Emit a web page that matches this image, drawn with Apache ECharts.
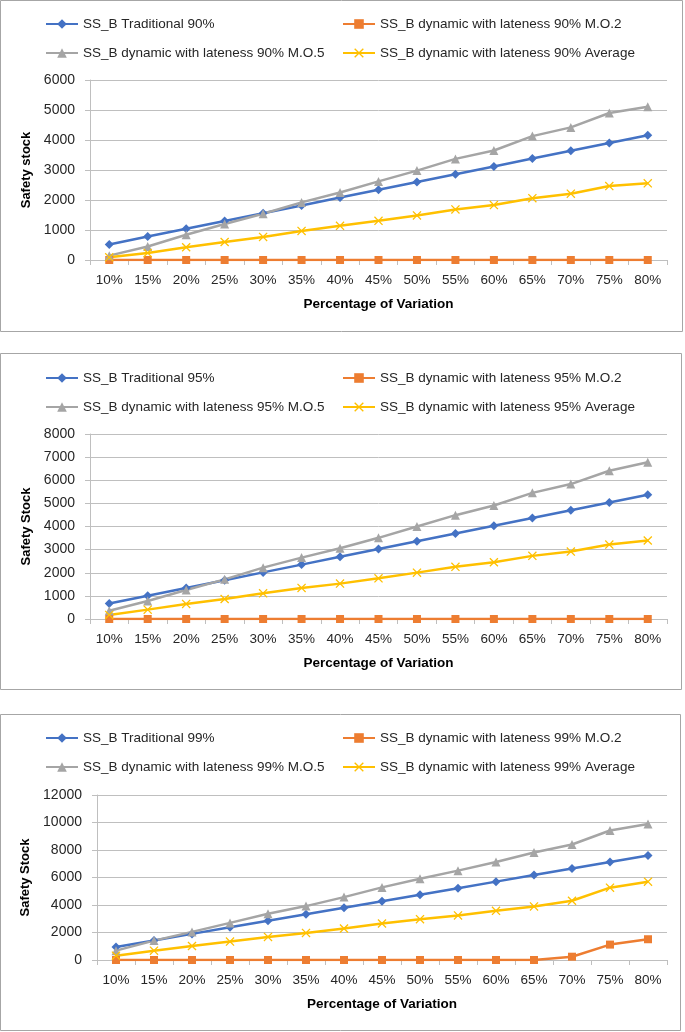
<!DOCTYPE html>
<html><head><meta charset="utf-8">
<script src="https://cdn.jsdelivr.net/npm/echarts@6/dist/echarts.min.js"></script>
<style>html,body{margin:0;padding:0;background:#fff}#c{width:685px;height:1032px}</style>
</head><body><div id="c"></div>
<script>
const categories = ['10%','15%','20%','25%','30%','35%','40%','45%','50%','55%','60%','65%','70%','75%','80%'];

const trad90 = [520,780,1040,1300,1560,1820,2080,2340,2600,2860,3120,3380,3640,3900,4160];
const mo2_90 = [0,0,0,0,0,0,0,0,0,0,0,0,0,0,0];
const mo5_90 = [145,450,840,1200,1540,1920,2250,2620,2980,3370,3650,4130,4420,4900,5110];
const avg_90 = [90,235,425,600,770,970,1140,1305,1485,1685,1830,2060,2210,2465,2555];

const trad95 = [672,1008,1344,1680,2016,2352,2688,3024,3360,3696,4032,4368,4704,5040,5376];
const mo2_95 = [0,0,0,0,0,0,0,0,0,0,0,0,0,0,0];
const mo5_95 = [360,780,1255,1715,2220,2655,3060,3510,4000,4490,4910,5455,5835,6410,6775];
const avg_95 = [175,405,650,865,1110,1345,1530,1760,2005,2255,2455,2730,2915,3220,3395];

const trad99 = [950,1425,1900,2375,2850,3325,3800,4275,4750,5225,5700,6175,6650,7125,7600];
const mo2_99 = [0,0,0,0,0,0,0,0,0,0,0,0,240,1120,1510];
const mo5_99 = [680,1410,2045,2700,3360,3920,4575,5280,5915,6500,7130,7815,8400,9420,9885];
const avg_99 = [315,680,1020,1340,1680,1970,2290,2655,2970,3240,3580,3895,4310,5260,5695];

const levels = ['90%','95%','99%'];
const yMaxes = [6000, 8000, 12000];
const yIntervals = [1000, 1000, 2000];
const yTitles = ['Safety stock','Safety Stock','Safety Stock'];
const xTitle = 'Percentage of Variation';
const panelData = [
  [trad90, mo2_90, mo5_90, avg_90],
  [trad95, mo2_95, mo5_95, avg_95],
  [trad99, mo2_99, mo5_99, avg_99]
];

const FONT = 'Liberation Sans, Arial, sans-serif';
const colors = ['#4472C4','#ED7D31','#A5A5A5','#FFC000'];
const xPath = 'path://M0,1 L1,0 L5,4 L9,0 L10,1 L6,5 L10,9 L9,10 L5,6 L1,10 L0,9 L4,5 Z';
const symbols = ['diamond','rect','triangle',xPath];
const symbolSizes = [9,8,9,9];

const grids = [
  {left:90, top:80, width:577, height:180},
  {left:90, top:434, width:577, height:185},
  {left:97, top:795, width:570, height:165}
];
const frames = [
  {x:0.5, y:0.5, width:682, height:331},
  {x:0.5, y:353.5, width:681, height:336},
  {x:0.5, y:714.5, width:680, height:316}
];
const legendTops = [12, 366, 726];

function names(l){
  return ['SS_B Traditional '+l, 'SS_B dynamic with lateness '+l+' M.O.2',
          'SS_B dynamic with lateness '+l+' M.O.5', 'SS_B dynamic with lateness '+l+' Average'];
}

const option = {
  animation:false,
  backgroundColor:'#fff',
  grid: grids.map(g=>Object.assign({containLabel:false}, g)),
  graphic: frames.map(f=>({type:'rect', shape:f, style:{fill:'none', stroke:'#A6A6A6', lineWidth:1}, silent:true})),
  legend: [],
  xAxis: [], yAxis: [], series: []
};

levels.forEach((lv,i)=>{
  const nm = names(lv);
  const legBase = {
    orient:'vertical', top:legendTops[i], itemWidth:32, itemHeight:12, itemGap:15,
    textStyle:{fontFamily:FONT, fontSize:13.5, color:'#262626'}, selectedMode:false
  };
  option.legend.push(Object.assign({}, legBase, {left:40, data:[nm[0], nm[2]]}));
  option.legend.push(Object.assign({}, legBase, {left:337, data:[nm[1], nm[3]]}));
  option.xAxis.push({
    type:'category', gridIndex:i, data:categories, boundaryGap:true,
    axisLine:{lineStyle:{color:'#BFBFBF', width:1}},
    axisTick:{show:true, interval:0, length:5, lineStyle:{color:'#BFBFBF'}},
    axisLabel:{interval:0, margin:13, fontFamily:FONT, fontSize:13.5, color:'#262626'},
    name:xTitle, nameLocation:'middle', nameGap:37,
    nameTextStyle:{fontFamily:FONT, fontSize:13.5, fontWeight:'bold', color:'#000'}
  });
  option.yAxis.push({
    type:'value', gridIndex:i, min:0, max:yMaxes[i], interval:yIntervals[i],
    axisLine:{show:true, lineStyle:{color:'#BFBFBF', width:1}},
    axisTick:{show:true, length:5, lineStyle:{color:'#BFBFBF'}},
    splitLine:{lineStyle:{color:'#BFBFBF', width:1}},
    axisLabel:{margin:15, fontFamily:FONT, fontSize:14, color:'#262626', formatter: v => String(v)},
    name:yTitles[i], nameLocation:'middle', nameGap: (i===2?45:38),
    nameTextStyle:{fontFamily:FONT, fontSize:13, fontWeight:'bold', color:'#000'}
  });
  panelData[i].forEach((d,k)=>{
    option.series.push({
      type:'line', name:nm[k], xAxisIndex:i, yAxisIndex:i, data:d,
      symbol:symbols[k], symbolSize:symbolSizes[k], showAllSymbol:true,
      lineStyle:{color:colors[k], width:2.5},
      itemStyle:{color:colors[k]},
      emphasis:{disabled:true}
    });
  });
});

const chart = echarts.init(document.getElementById('c'), null, {renderer:'canvas'});
chart.setOption(option);
</script></body></html>
